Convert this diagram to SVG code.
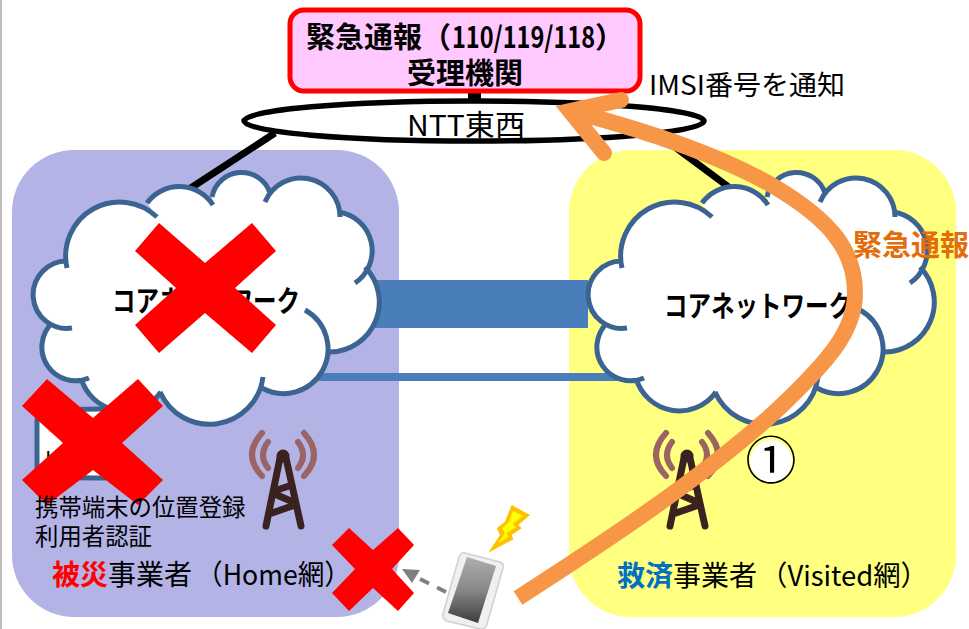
<svg xmlns="http://www.w3.org/2000/svg" width="969" height="629" viewBox="0 0 969 629">
<style>
text{font-family:"Noto Sans CJK JP","Noto Sans",sans-serif;fill:#000}
.b{font-weight:700}
.blk{stroke:#000;stroke-width:7;fill:none}
.cf{fill:#fff}
.cs{fill:none;stroke:#3C6492;stroke-width:5}
.x{fill:#f00}
.arrow{fill:none;stroke:#F79646;stroke-width:16}
</style>
<defs>
<path id="cloudFill" d="M67,268A54 54 0 0 1 157,217L147,203A40 40 0 0 1 213,205L212,197A30 30 0 0 1 270,193L265,202A39 39 0 0 1 340,217L338,212A39 39 0 0 1 355,283L365,267A50 50 0 0 1 330,352L305,310A40 40 0 0 1 262,388L263,377A54 54 0 0 1 160,392L161,392A45 45 0 0 1 81,378L89,378A33.7 33.7 0 0 1 52,323L72,328A33.7 33.7 0 1 1 67,261Z"/>
<path id="cloudLine" d="M67,268A54 54 0 0 1 157,217M147,203A40 40 0 0 1 213,205M212,197A30 30 0 0 1 270,193M265,202A39 39 0 0 1 340,217M338,212A39 39 0 0 1 355,283M365,267A50 50 0 0 1 330,352M305,310A40 40 0 0 1 262,388M263,377A54 54 0 0 1 160,392M161,392A45 45 0 0 1 81,378M89,378A33.7 33.7 0 0 1 52,323M72,328A33.7 33.7 0 1 1 67,261"/>
<g id="tower" fill="none" stroke-linecap="round">
<path d="M262,433Q242,455 262,476M304,433Q324,455 304,476" stroke="#9B6363" stroke-width="6"/>
<path d="M268,442Q258,455 268,468M298,442Q308,455 298,468" stroke="#9B6363" stroke-width="6"/>
<path d="M280,458L266,526M286,458L301,526M277,490L292,485M277,495L293,502M272,513L295,505" stroke="#3A2220" stroke-width="7"/>
<circle cx="283" cy="456" r="6.5" fill="#3A2220"/>
</g>
<linearGradient id="screen" x1="0" y1="0" x2="0" y2="1"><stop offset="0" stop-color="#ADADAD"/><stop offset=".5" stop-color="#888"/><stop offset="1" stop-color="#3C3C3C"/></linearGradient>
</defs>
<rect width="969" height="629" fill="#fff"/>
<rect x="0" y="0" width="2" height="629" fill="#BDBDBD"/>
<g id="home-network"><rect x="12" y="150" width="387" height="467" rx="62" fill="#B3B3E6"/></g>
<g id="visited-network"><rect x="569" y="150" width="387" height="467" rx="62" fill="#FFFF80"/></g>
<g id="connectors">
<path class="blk" d="M275,133L180,195M668,142L730,188"/>
<rect x="468" y="88" width="13" height="14" fill="#000"/>
<rect x="373" y="280" width="215" height="48" fill="#4A7EBB"/>
<rect x="300" y="373" width="320" height="8" fill="#4A7EBB"/>
<path d="M446,592L416,577" fill="none" stroke="#808080" stroke-width="4" stroke-dasharray="10 9"/>
<path d="M402,569L420,570L412,583Z" fill="#808080"/>
</g>
<g id="ntt"><ellipse cx="474" cy="121" rx="230" ry="20" fill="#fff" stroke="#000" stroke-width="5.5"/>
<text x="407" y="136" font-size="29" textLength="118" lengthAdjust="spacingAndGlyphs">NTT東西</text></g>
<g id="psap"><rect x="290" y="10" width="350" height="81" rx="14" fill="#FFC8FF" stroke="#f00" stroke-width="5"/>
<text class="b" font-size="29"><tspan x="306" y="48">緊急通報（</tspan><tspan x="452" y="48" textLength="143" lengthAdjust="spacingAndGlyphs">110/119/118</tspan><tspan x="595" y="48">）</tspan><tspan x="407" y="84">受理機関</tspan></text></g>
<g id="hlr"><path d="M37,420Q37,409 100,409L108,409V478L100,478Q37,478 37,468Z" fill="#fff" stroke="#3C6492" stroke-width="5"/><text x="45" y="467" font-size="22">H</text></g>
<g id="core-home"><use href="#cloudFill" class="cf"/><use href="#cloudLine" class="cs"/>
<text class="b" x="112" y="312" font-size="29" textLength="188" lengthAdjust="spacingAndGlyphs">コアネットワーク</text></g>
<g id="core-visited" transform="translate(555,0)"><use href="#cloudFill" class="cf"/><use href="#cloudLine" class="cs"/></g>
<g id="core-visited-label"><text class="b" x="664" y="317" font-size="29" textLength="188" lengthAdjust="spacingAndGlyphs">コアネットワーク</text></g>
<g id="tower-home"><use href="#tower"/></g>
<g id="tower-visited" transform="translate(404,0)"><use href="#tower"/></g>
<g id="marker-1"><circle cx="771" cy="461" r="21" fill="#fff"/><text x="771" y="479" font-size="51" text-anchor="middle">①</text></g>
<g id="x-core"><path class="x" d="M135,251L159,223L205,263L252,223L276,251L235,288L276,325L252,353L205,313L159,353L135,325L176,288Z"/></g>
<g id="x-hlr"><path class="x" d="M22,406L47,379L93,418L138,379L163,406L122,443L163,480L138,505L93,470L47,505L22,480L63,443Z"/></g>
<g id="labels-home">
<text font-size="23.4"><tspan x="35" y="516">携帯端末の位置登録</tspan><tspan x="35" y="545">利用者認証</tspan></text>
<text x="52" y="585" font-size="28"><tspan class="b" style="fill:#f00">被災</tspan>事業者<tspan x="196" textLength="155" lengthAdjust="spacingAndGlyphs">（Home網）</tspan></text>
</g>
<g id="labels-visited">
<text x="617" y="586" font-size="28"><tspan class="b" style="fill:#0070C0">救済</tspan>事業者<tspan x="760" textLength="168" lengthAdjust="spacingAndGlyphs">（Visited網）</tspan></text>
</g>
<g id="x-base"><path class="x" d="M332,545L349,528L373,550L398,528L414,545L392,569L414,593L398,611L373,588L349,611L332,593L355,569Z"/></g>
<g id="phone">
<path d="M465,553L500,562Q504,563 503,568L487,624Q485,630 480,629L447,621Q442,619 443,614L459,557Q461,552 465,553Z" fill="#F0F0F0" stroke="#D0D0D0" stroke-width="1.5"/>
<path d="M467,557L496,566L478,623L448,613Z" fill="url(#screen)"/>
</g>
<g id="bolt" transform="translate(330,420) scale(.3333)">
<path d="M545,255L600,285L565,315L575,325L545,345L550,358L475,398L510,345L500,325L525,305Z" fill="#FFC000"/>
<path d="M548,272L578,287L548,312L558,322L530,338L535,350L505,370L525,340L517,325L538,305Z" fill="#FFFF00"/>
</g>
<g id="labels"><text x="649" y="95" font-size="27.5" textLength="196" lengthAdjust="spacingAndGlyphs">IMSI番号を通知</text></g>
<g id="connectors-top">
<path class="arrow" d="M518,598C600,545 700,480 777,410C830,360 855,330 855,293C855,250 830,220 775,187C720,155 650,132 575,112"/>
<path class="arrow" d="M621,100L570,111L604,153" stroke-linecap="round" stroke-linejoin="miter" stroke-miterlimit="6"/>
</g>
<g id="label-emergency"><text class="b" x="853" y="256" font-size="29" style="fill:#E46C0A">緊急通報</text></g>
</svg>
